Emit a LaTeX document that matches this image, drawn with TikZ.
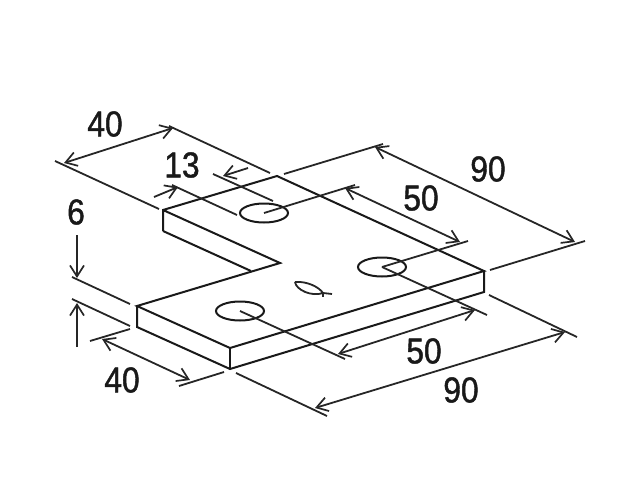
\documentclass[tikz,border=0pt]{standalone}
\usepackage{fontspec}
\newfontfamily\zahlfont[FakeStretch=0.88,FakeBold=1.2]{Liberation Sans}
\usetikzlibrary{arrows.meta}

\tikzset{
  kante/.style={line width=2pt, line join=miter, black!90},
  hilfe/.style={line width=1.8pt, black!85},
  mass/.style={line width=1.8pt, black!85, {Straight Barb[length=11pt,width=14pt,line width=1.7pt]}-{Straight Barb[length=11pt,width=14pt,line width=1.7pt]}},
  pfeil/.style={line width=1.8pt, black!85, -{Straight Barb[length=11pt,width=14pt,line width=1.7pt]}},
  zahl/.style={font=\zahlfont\fontsize{36}{36}\selectfont, inner sep=0pt, black!90}
}

\begin{document}
\begin{tikzpicture}[x=1pt,y=-1pt]
\useasboundingbox (0,0) rectangle (640,480);

% Koordinaten Platte oben
\coordinate (A) at (163,210);
\coordinate (B) at (277,176);
\coordinate (C) at (484,271);
\coordinate (D) at (230,348);
\coordinate (E) at (137,306);
\coordinate (F) at (280,263);

% Koordinaten Platte unten
\coordinate (G) at (163,231);
\coordinate (H) at (251,271);
\coordinate (I) at (137,327);
\coordinate (J) at (230,369);
\coordinate (K) at (484,292);

% Bohrungen
\coordinate (m1) at (264,213);
\coordinate (m2) at (382,267);
\coordinate (m3) at (240,311);

% Hilfslinien
\coordinate (h1a) at (159,209);
\coordinate (h1b) at (55,161);
\coordinate (h2a) at (169,126);
\coordinate (h2b) at (270,173);
\coordinate (h3a) at (172,185);
\coordinate (h3b) at (237,215);
\coordinate (h4a) at (213,174);
\coordinate (h4b) at (273,201);
\coordinate (h5a) at (284,174);
\coordinate (h5b) at (383,144);
\coordinate (h6a) at (355,185);
\coordinate (h7a) at (468,241);
\coordinate (h8a) at (490,270);
\coordinate (h8b) at (585,241);
\coordinate (h9a) at (72,277);
\coordinate (h9b) at (130,304);
\coordinate (h10a) at (72,299);
\coordinate (h10b) at (130,326);
\coordinate (h11a) at (130,329);
\coordinate (h11b) at (90,341);
\coordinate (h12a) at (224,372);
\coordinate (h12b) at (179,386);
\coordinate (h13a) at (236,373);
\coordinate (h13b) at (327,416);
\coordinate (h14a) at (489,295);
\coordinate (h14b) at (577,337);
\coordinate (h15a) at (345,359);
\coordinate (h16a) at (487,315);

% Masspfeile
\coordinate (p1a) at (64,163);
\coordinate (p1b) at (173,128);
\coordinate (p2a) at (154,197);
\coordinate (p2b) at (178,187);
\coordinate (p3a) at (248,168);
\coordinate (p3b) at (223,176);
\coordinate (p4a) at (375,147);
\coordinate (p4b) at (575,242);
\coordinate (p5a) at (345,188);
\coordinate (p5b) at (460,242);
\coordinate (p6a) at (77,235);
\coordinate (p6b) at (77,278);
\coordinate (p7a) at (77,347);
\coordinate (p7b) at (77,303);
\coordinate (p8a) at (102,339);
\coordinate (p8b) at (190,380);
\coordinate (p9a) at (338,354);
\coordinate (p9b) at (475,310);
\coordinate (p10a) at (315,408);
\coordinate (p10b) at (565,332);

% Platte
\draw[kante] (G) -- (A) -- (B) -- (C) -- (D) -- (E) -- (F) -- (A);
\draw[kante] (G) -- (H);
\draw[kante] (E) -- (I) -- (J) -- (K) -- (C);
\draw[kante] (D) -- (J);

% Bohrungen
\draw[kante] (m1) ellipse [x radius=24, y radius=9.5];
\draw[kante] (m2) ellipse [x radius=24, y radius=9.5];
\draw[kante] (m3) ellipse [x radius=24, y radius=9.5];

% Fisch
\coordinate (f1) at (295,282);
\coordinate (f2) at (323,293);
\coordinate (f3) at (332,294);
\coordinate (f4) at (323,297);
\draw[hilfe] (f1) .. controls (307,281) and (319,287) .. (f2) .. controls (312,297) and (296,290) .. (f1);
\draw[hilfe] (f2) -- (f3);
\draw[hilfe] (f2) -- (f4);

% Hilfslinien
\draw[hilfe] (h1a) -- (h1b);
\draw[hilfe] (h2a) -- (h2b);
\draw[hilfe] (h3a) -- (h3b);
\draw[hilfe] (h4a) -- (h4b);
\draw[hilfe] (h5a) -- (h5b);
\draw[hilfe] (m1) -- (h6a);
\draw[hilfe] (m2) -- (h7a);
\draw[hilfe] (h8a) -- (h8b);
\draw[hilfe] (h9a) -- (h9b);
\draw[hilfe] (h10a) -- (h10b);
\draw[hilfe] (h11a) -- (h11b);
\draw[hilfe] (h12a) -- (h12b);
\draw[hilfe] (h13a) -- (h13b);
\draw[hilfe] (h14a) -- (h14b);
\draw[hilfe] (m3) -- (h15a);
\draw[hilfe] (m2) -- (h16a);

% Masspfeile
\draw[mass] (p1a) -- (p1b);
\draw[pfeil] (p2a) -- (p2b);
\draw[pfeil] (p3a) -- (p3b);
\draw[mass] (p4a) -- (p4b);
\draw[mass] (p5a) -- (p5b);
\draw[pfeil] (p6a) -- (p6b);
\draw[pfeil] (p7a) -- (p7b);
\draw[mass] (p8a) -- (p8b);
\draw[mass] (p9a) -- (p9b);
\draw[mass] (p10a) -- (p10b);

% Zahlen
\node[zahl] (z40o) at (105,124) {40};
\node[zahl] (z13) at (182,165) {13};
\node[zahl] (z6) at (76,212) {6};
\node[zahl] (z90o) at (488,169) {90};
\node[zahl] (z50o) at (421,198) {50};
\node[zahl] (z50u) at (424,351) {50};
\node[zahl] (z90u) at (461,390) {90};
\node[zahl] (z40u) at (122,380) {40};

\end{tikzpicture}
\end{document}
